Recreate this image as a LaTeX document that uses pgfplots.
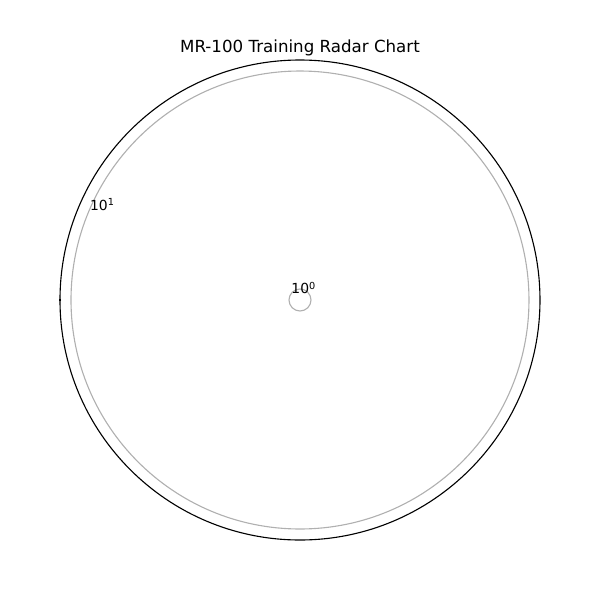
\documentclass[border=0pt]{standalone}
\usepackage{pgfplots}
\pgfplotsset{compat=1.18}
\usepgfplotslibrary{polar}
\usepackage{fontspec}
\setmainfont{DejaVu Sans}
\definecolor{gridgray}{HTML}{B0B0B0}
\begin{document}
\begin{tikzpicture}
\path[use as bounding box] (-216pt,-216pt) rectangle (216pt,216pt);
\begin{polaraxis}[
  name=ax, at={(0,0)}, anchor=center,
  width=345.6pt, height=345.6pt, scale only axis,
  xmin=0, xmax=360, ymin=0, ymax=240,
  xtick={180}, xticklabels={}, xmajorgrids=false,
  ytick={11,229}, yticklabels={}, ymajorgrids=true,
  ytick style={draw=none},
  y axis line style={draw=none},
  xtick style={black, line width=0.8pt},
  tick align=center,
  major tick length=1.5pt,
  grid style={gridgray, line width=0.8pt},
  x axis line style={black, line width=0.8pt},
]
\addplot[draw=none] coordinates {(0,0)};
\node[anchor=south west, inner sep=1pt, font=\fontsize{10}{12}\selectfont] at (axis cs:157.5,229) {10\raisebox{0.6ex}{\fontsize{7}{8}\selectfont 1}};
\node[anchor=south west, inner sep=1pt, font=\fontsize{10}{12}\selectfont] at (axis cs:157.5,11) {10\raisebox{0.6ex}{\fontsize{7}{8}\selectfont 0}};
\end{polaraxis}
\node[font=\fontsize{12}{14}\selectfont] at (0,181.4pt) {MR-100 Training Radar Chart};
\end{tikzpicture}
\end{document}
